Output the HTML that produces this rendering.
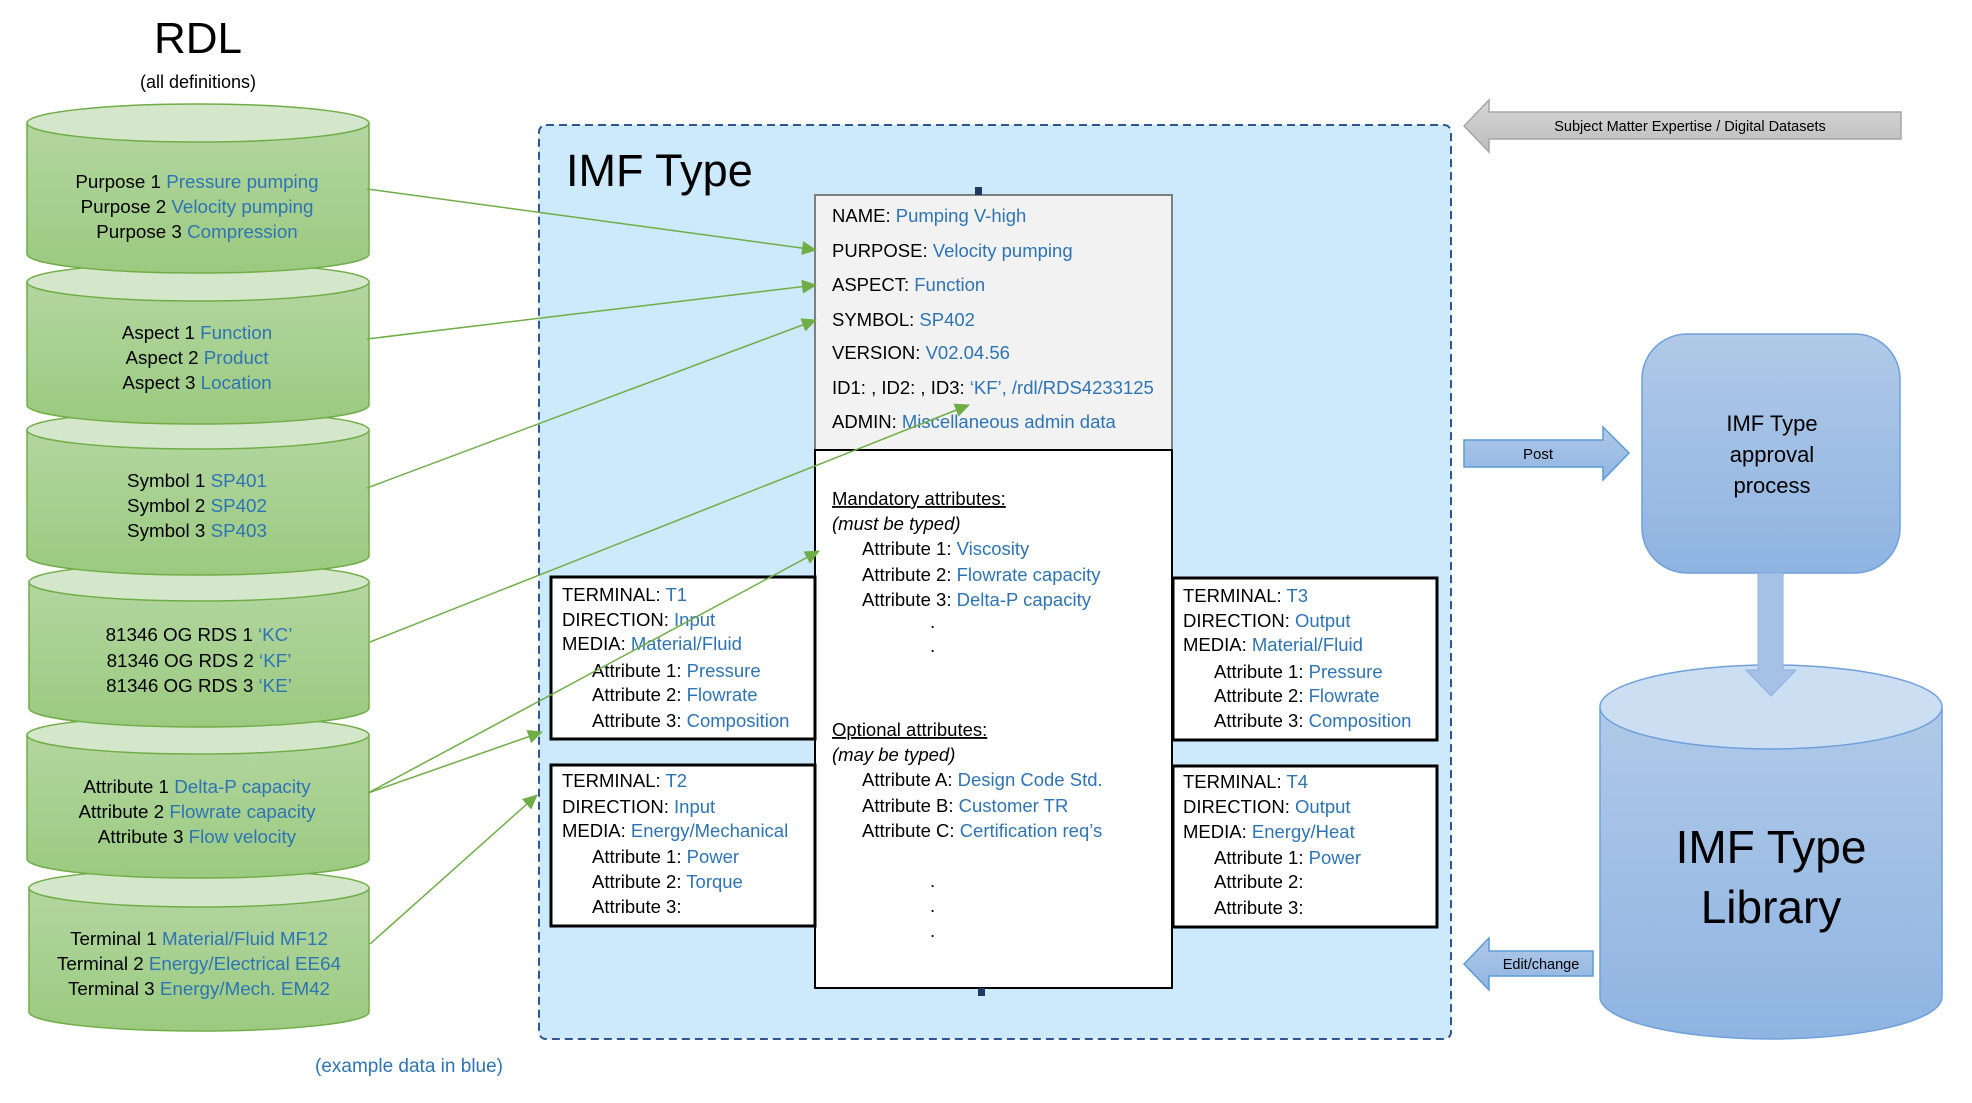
<!DOCTYPE html>
<html><head><meta charset="utf-8"><style>
html,body{margin:0;padding:0;background:#fff;}
svg{display:block;font-family:"Liberation Sans",sans-serif;}
.t{font-size:18.5px;fill:#000;}
.b{fill:#2e74b5;}
.c{font-size:18.8px;text-anchor:middle;}
</style></head><body>
<svg width="1972" height="1103" viewBox="0 0 1972 1103" xmlns="http://www.w3.org/2000/svg">
<defs>
<linearGradient id="gg" x1="0" y1="0" x2="0" y2="1"><stop offset="0" stop-color="#b3d6a0"/><stop offset="1" stop-color="#9bca80"/></linearGradient>
<linearGradient id="bg" x1="0" y1="0" x2="0" y2="1"><stop offset="0" stop-color="#b0c9e8"/><stop offset="1" stop-color="#8fb4e1"/></linearGradient>
<linearGradient id="gr" x1="0" y1="0" x2="0" y2="1"><stop offset="0" stop-color="#d6d6d6"/><stop offset="1" stop-color="#bdbdbd"/></linearGradient>
<marker id="ah" markerUnits="userSpaceOnUse" markerWidth="16" markerHeight="14" refX="14" refY="7" orient="auto"><path d="M0,0 L15,7 L0,14 Z" fill="#70ad47"/></marker>
</defs>

<text x="198" y="53" font-size="44" text-anchor="middle">RDL</text>
<text x="198" y="88" font-size="18" text-anchor="middle">(all definitions)</text>

<g stroke="#70ad47" stroke-width="1.5">
<path d="M29,888 L29,1012 A170,19 0 0 0 369,1012 L369,888 Z" fill="url(#gg)"/><ellipse cx="199" cy="888" rx="170" ry="19" fill="#d4e7ca"/>
<path d="M27,735 L27,859 A171,19 0 0 0 369,859 L369,735 Z" fill="url(#gg)"/><ellipse cx="198" cy="735" rx="171" ry="19" fill="#d4e7ca"/>
<path d="M29,582 L29,708 A170,19 0 0 0 369,708 L369,582 Z" fill="url(#gg)"/><ellipse cx="199" cy="582" rx="170" ry="19" fill="#d4e7ca"/>
<path d="M27,430 L27,556 A171,19 0 0 0 369,556 L369,430 Z" fill="url(#gg)"/><ellipse cx="198" cy="430" rx="171" ry="19" fill="#d4e7ca"/>
<path d="M27,282 L27,405 A171,19 0 0 0 369,405 L369,282 Z" fill="url(#gg)"/><ellipse cx="198" cy="282" rx="171" ry="19" fill="#d4e7ca"/>
<path d="M27,123 L27,254 A171,19 0 0 0 369,254 L369,123 Z" fill="url(#gg)"/><ellipse cx="198" cy="123" rx="171" ry="19" fill="#d4e7ca"/>
</g>
<g class="c">
<text x="197" y="188">Purpose 1 <tspan class="b">Pressure pumping</tspan></text>
<text x="197" y="213">Purpose 2 <tspan class="b">Velocity pumping</tspan></text>
<text x="197" y="238">Purpose 3 <tspan class="b">Compression</tspan></text>
<text x="197" y="339">Aspect 1 <tspan class="b">Function</tspan></text>
<text x="197" y="364">Aspect 2 <tspan class="b">Product</tspan></text>
<text x="197" y="389">Aspect 3 <tspan class="b">Location</tspan></text>
<text x="197" y="487">Symbol 1 <tspan class="b">SP401</tspan></text>
<text x="197" y="512">Symbol 2 <tspan class="b">SP402</tspan></text>
<text x="197" y="537">Symbol 3 <tspan class="b">SP403</tspan></text>
<text x="199" y="641">81346 OG RDS 1 <tspan class="b">‘KC’</tspan></text>
<text x="199" y="667">81346 OG RDS 2 <tspan class="b">‘KF’</tspan></text>
<text x="199" y="692">81346 OG RDS 3 <tspan class="b">‘KE’</tspan></text>
<text x="197" y="793">Attribute 1 <tspan class="b">Delta-P capacity</tspan></text>
<text x="197" y="818">Attribute 2 <tspan class="b">Flowrate capacity</tspan></text>
<text x="197" y="843">Attribute 3 <tspan class="b">Flow velocity</tspan></text>
<text x="199" y="945">Terminal 1 <tspan class="b">Material/Fluid MF12</tspan></text>
<text x="199" y="970">Terminal 2 <tspan class="b">Energy/Electrical EE64</tspan></text>
<text x="199" y="995">Terminal 3 <tspan class="b">Energy/Mech. EM42</tspan></text>
</g>
<text x="409" y="1072" font-size="19" text-anchor="middle" class="b">(example data in blue)</text>

<rect x="539" y="125" width="912" height="914" rx="7" fill="#cceafb" stroke="#2f5597" stroke-width="2" stroke-dasharray="8,5"/>
<text x="566" y="186" font-size="45">IMF Type</text>

<rect x="815" y="195" width="357" height="255" fill="#f2f2f2" stroke="#7f7f7f" stroke-width="2"/>
<rect x="815" y="450" width="357" height="538" fill="#fff" stroke="#000" stroke-width="2"/>
<rect x="975" y="187" width="7" height="8" fill="#1f3864"/>
<rect x="978" y="988" width="7" height="8" fill="#1f3864"/>
<g class="t">
<text x="832" y="222">NAME: <tspan class="b">Pumping V-high</tspan></text>
<text x="832" y="257">PURPOSE: <tspan class="b">Velocity pumping</tspan></text>
<text x="832" y="291">ASPECT: <tspan class="b">Function</tspan></text>
<text x="832" y="326">SYMBOL: <tspan class="b">SP402</tspan></text>
<text x="832" y="359">VERSION: <tspan class="b">V02.04.56</tspan></text>
<text x="832" y="394">ID1: , ID2: , ID3: <tspan class="b">‘KF’, /rdl/RDS4233125</tspan></text>
<text x="832" y="428">ADMIN: <tspan class="b">Miscellaneous admin data</tspan></text>
<text x="832" y="505" text-decoration="underline">Mandatory attributes:</text>
<text x="832" y="530" font-style="italic">(must be typed)</text>
<text x="862" y="555">Attribute 1: <tspan class="b">Viscosity</tspan></text>
<text x="862" y="581">Attribute 2: <tspan class="b">Flowrate capacity</tspan></text>
<text x="862" y="606">Attribute 3: <tspan class="b">Delta-P capacity</tspan></text>
<text x="930" y="628">.</text><text x="930" y="652">.</text>
<text x="832" y="736" text-decoration="underline">Optional attributes:</text>
<text x="832" y="761" font-style="italic">(may be typed)</text>
<text x="862" y="786">Attribute A: <tspan class="b">Design Code Std.</tspan></text>
<text x="862" y="812">Attribute B: <tspan class="b">Customer TR</tspan></text>
<text x="862" y="837">Attribute C: <tspan class="b">Certification req’s</tspan></text>
<text x="930" y="887">.</text><text x="930" y="912">.</text><text x="930" y="937">.</text>
</g>

<g fill="#fff" stroke="#000" stroke-width="3">
<rect x="551" y="577" width="264" height="162"/>
<rect x="551" y="765" width="264" height="161"/>
<rect x="1173" y="578" width="264" height="162"/>
<rect x="1173" y="766" width="264" height="161"/>
</g>
<g class="t">
<text x="562" y="601">TERMINAL: <tspan class="b">T1</tspan></text>
<text x="562" y="626">DIRECTION: <tspan class="b">Input</tspan></text>
<text x="562" y="650">MEDIA: <tspan class="b">Material/Fluid</tspan></text>
<text x="592" y="677">Attribute 1: <tspan class="b">Pressure</tspan></text>
<text x="592" y="701">Attribute 2: <tspan class="b">Flowrate</tspan></text>
<text x="592" y="727">Attribute 3: <tspan class="b">Composition</tspan></text>
<text x="562" y="787">TERMINAL: <tspan class="b">T2</tspan></text>
<text x="562" y="813">DIRECTION: <tspan class="b">Input</tspan></text>
<text x="562" y="837">MEDIA: <tspan class="b">Energy/Mechanical</tspan></text>
<text x="592" y="863">Attribute 1: <tspan class="b">Power</tspan></text>
<text x="592" y="888">Attribute 2: <tspan class="b">Torque</tspan></text>
<text x="592" y="913">Attribute 3:</text>
<text x="1183" y="602">TERMINAL: <tspan class="b">T3</tspan></text>
<text x="1183" y="627">DIRECTION: <tspan class="b">Output</tspan></text>
<text x="1183" y="651">MEDIA: <tspan class="b">Material/Fluid</tspan></text>
<text x="1214" y="678">Attribute 1: <tspan class="b">Pressure</tspan></text>
<text x="1214" y="702">Attribute 2: <tspan class="b">Flowrate</tspan></text>
<text x="1214" y="727">Attribute 3: <tspan class="b">Composition</tspan></text>
<text x="1183" y="788">TERMINAL: <tspan class="b">T4</tspan></text>
<text x="1183" y="813">DIRECTION: <tspan class="b">Output</tspan></text>
<text x="1183" y="838">MEDIA: <tspan class="b">Energy/Heat</tspan></text>
<text x="1214" y="864">Attribute 1: <tspan class="b">Power</tspan></text>
<text x="1214" y="888">Attribute 2:</text>
<text x="1214" y="914">Attribute 3:</text>
</g>

<g stroke="#70ad47" stroke-width="1.5" fill="none" marker-end="url(#ah)">
<line x1="367" y1="189" x2="816" y2="250"/>
<line x1="367" y1="339" x2="816" y2="285"/>
<line x1="367" y1="488" x2="816" y2="320"/>
<line x1="370" y1="642" x2="969" y2="405"/>
<line x1="368" y1="793" x2="819" y2="551"/>
<line x1="368" y1="793" x2="542" y2="732"/>
<line x1="370" y1="944" x2="537" y2="795"/>
</g>

<path d="M1464,126 L1489,100 L1489,112 L1901,112 L1901,139 L1489,139 L1489,152 Z" fill="url(#gr)" stroke="#a6a6a6" stroke-width="1.5"/>
<text x="1690" y="131" font-size="14.5" text-anchor="middle">Subject Matter Expertise / Digital Datasets</text>

<path d="M1464,440 L1603,440 L1603,427 L1629,453 L1603,480 L1603,467 L1464,467 Z" fill="url(#bg)" stroke="#5b9bd5" stroke-width="1.5"/>
<text x="1538" y="459" font-size="15" text-anchor="middle">Post</text>

<rect x="1642" y="334" width="258" height="239" rx="45" fill="url(#bg)" stroke="#6fa0dc" stroke-width="1.5"/>
<g font-size="22" text-anchor="middle">
<text x="1772" y="431">IMF Type</text>
<text x="1772" y="462">approval</text>
<text x="1772" y="493">process</text>
</g>

<path d="M1600,707 L1600,997 A171,42 0 0 0 1942,997 L1942,707 Z" fill="url(#bg)" stroke="#6fa0dc" stroke-width="1.5"/>
<ellipse cx="1771" cy="707" rx="171" ry="42" fill="#ccdff2" stroke="#6fa0dc" stroke-width="1.5"/>
<g font-size="46" text-anchor="middle">
<text x="1771" y="863">IMF Type</text>
<text x="1771" y="923">Library</text>
</g>

<path d="M1758,573 L1783,573 L1783,670 L1796,670 L1771,696 L1746,670 L1758,670 Z" fill="#a5c2e6" stroke="#8cb0de" stroke-width="1"/>

<path d="M1464,964 L1489,938 L1489,951 L1593,951 L1593,976 L1489,976 L1489,990 Z" fill="url(#bg)" stroke="#5b9bd5" stroke-width="1.5"/>
<text x="1541" y="969" font-size="14.5" text-anchor="middle">Edit/change</text>
</svg>
</body></html>
